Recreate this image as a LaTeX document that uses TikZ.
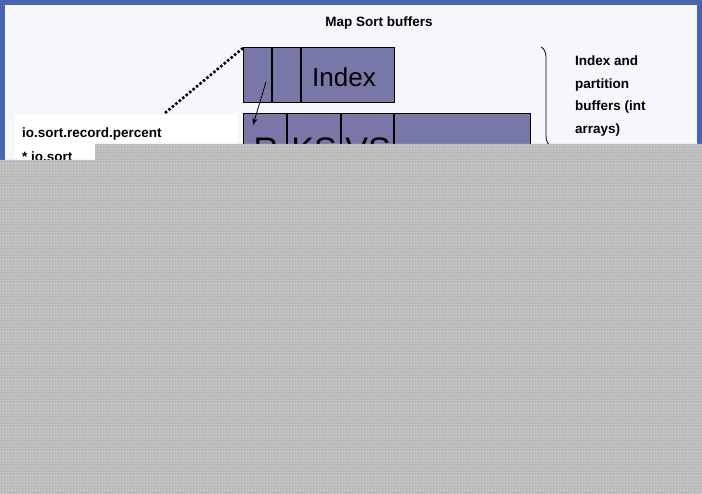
\documentclass[tikz,border=0pt]{standalone}
\usepackage{fontspec}
\setmainfont{Liberation Sans}
\usetikzlibrary{patterns,decorations.pathreplacing,arrows.meta}
\definecolor{buf}{HTML}{7878A8}
\definecolor{frame}{HTML}{4A64B4}
\definecolor{bg}{HTML}{F6F7FA}
\begin{document}
\begin{tikzpicture}[x=1pt,y=-1pt,
  bufbox/.style={draw=black,fill=buf,line width=0.6pt},
  sep/.style={line width=2.2pt},
  lbl/.style={font=\bfseries\fontsize{13.5}{16}\selectfont,anchor=west,inner sep=0pt},
  big/.style={font=\fontsize{26}{28}\selectfont,inner sep=0pt}]
\useasboundingbox (0,0) rectangle (702,494);
\fill[frame] (0,0) rectangle (702,494);
\fill[bg] (5,5) rectangle (697,489);
\node[font=\bfseries\fontsize{13.5}{16}\selectfont] (title) at (379,23) {Map Sort buffers};
% index box
\draw[bufbox] (243,47) rectangle (394,102);
\coordinate (ixtl) at (243,48);
\draw[sep] (272,47) -- (272,102);
\draw[sep] (301,47) -- (301,102);
\node[big] (index) at (344,77) {Index};
% data box
\draw[bufbox] (243,113) rectangle (530,250);
\draw[sep] (287,113) -- (287,250);
\draw[sep] (341,113) -- (341,250);
\draw[sep] (394,113) -- (394,250);
\node[big,font=\fontsize{34}{36}\selectfont] (r) at (266,150) {R};
\node[big,font=\fontsize{34}{36}\selectfont] (ks) at (314,150) {KS};
\node[big,font=\fontsize{34}{36}\selectfont] (vs) at (368,150) {VS};
\coordinate (a1) at (266,82);
\coordinate (a2) at (253,125);
\draw[-{Stealth[length=7pt]},line width=0.8pt] (a1) -- (a2);
% label
\fill[white] (15,115) rectangle (238,200);
\coordinate (dl) at (165,113);
\draw[line width=2.5pt,dotted] (ixtl) -- (dl);
\node[lbl] (l1) at (22,134) {io.sort.record.percent};
\node[lbl] (l2) at (22,157) {* io.sort};
% brace
\coordinate (b1) at (541,47);
\coordinate (b2) at (541,245);
\draw[decorate,decoration={brace,amplitude=10pt},line width=0.8pt] (b1) -- (b2);
\node[lbl,align=left,anchor=north west,font=\bfseries\fontsize{13.5}{22.5}\selectfont] (rt) at (575,56) {Index and\\partition\\buffers (int\\arrays)};
% occlusion
\fill[gray!55] (95,144) -- (702,144) -- (702,494) -- (0,494) -- (0,160) -- (95,160) -- cycle;
\fill[pattern=dots,pattern color=white] (95,144) -- (702,144) -- (702,494) -- (0,494) -- (0,160) -- (95,160) -- cycle;
\end{tikzpicture}
\end{document}
